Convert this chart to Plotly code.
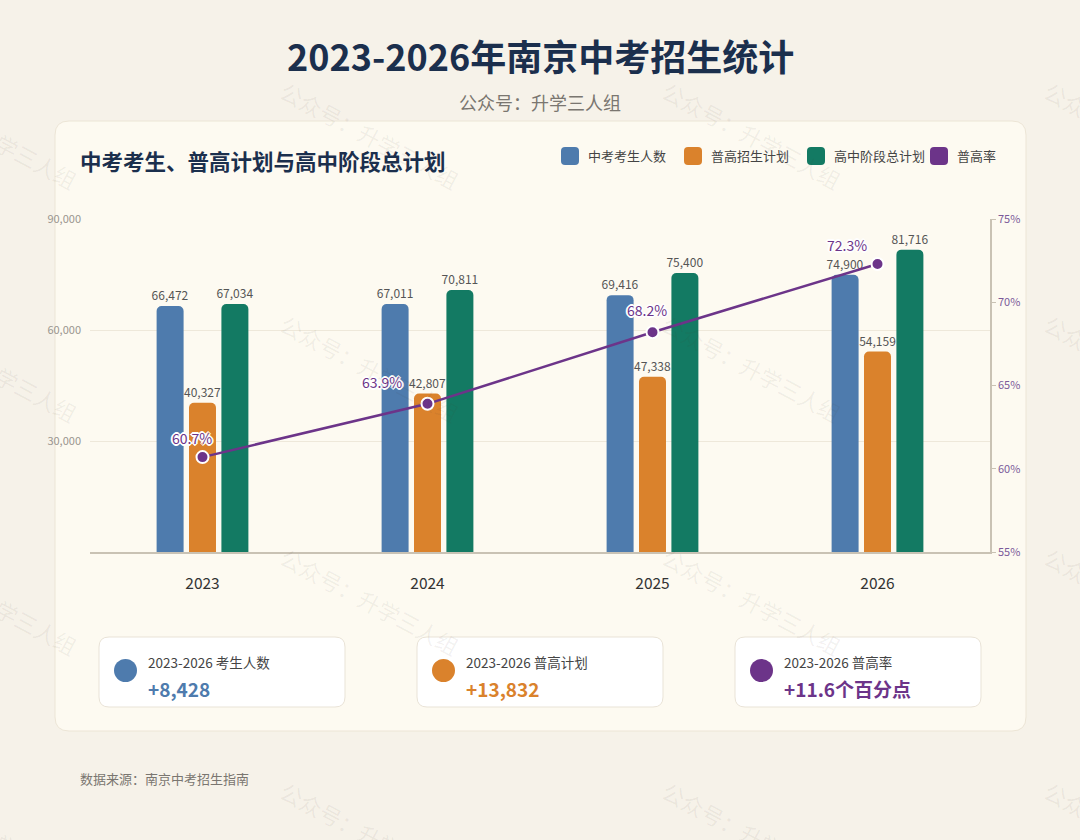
import plotly.graph_objects as go

# ---------------- data ----------------
years = ["2023", "2024", "2025", "2026"]
examinees = [66472, 67011, 69416, 74900]          # 中考考生人数
general_plan = [40327, 42807, 47338, 54159]       # 普高招生计划
total_plan = [67034, 70811, 75400, 81716]         # 高中阶段总计划
general_rate = [60.7, 63.9, 68.2, 72.3]           # 普高率 (%)
series_names = ["中考考生人数", "普高招生计划", "高中阶段总计划", "普高率"]
left_ticks = [30000, 60000, 90000]
right_ticks = [55, 60, 65, 70, 75]

title_text = "2023-2026年南京中考招生统计"
subtitle_text = "公众号：升学三人组"
card_title = "中考考生、普高计划与高中阶段总计划"
footer_text = "数据来源：南京中考招生指南"
watermark_text = "公众号：升学三人组"
summary_labels = ["2023-2026 考生人数", "2023-2026 普高计划", "2023-2026 普高率"]

# ---------------- styles ----------------
FONT = "Noto Sans CJK SC, Noto Sans, sans-serif"
C_BLUE, C_ORANGE, C_GREEN, C_PURPLE = "#4E7BAD", "#DA822C", "#137A63", "#6C3489"
C_NAVY = "#1B2F4D"
PAGE_BG, CARD_BG, CARD_BORDER = "#F6F2E9", "#FDFAF1", "#ECE5D6"
colors = [C_BLUE, C_ORANGE, C_GREEN, C_PURPLE]

W, H = 1080, 840
L, R, T, B = 90, 990, 219, 552   # plot area in pixels


def X(px):
    return (px - L) / (R - L)


def Y(py):
    return (B - py) / (B - T)


def rrect(x0, y0, x1, y1, r):
    pts = [
        f"M{X(x0 + r)},{Y(y0)}", f"L{X(x1 - r)},{Y(y0)}",
        f"Q{X(x1)},{Y(y0)} {X(x1)},{Y(y0 + r)}", f"L{X(x1)},{Y(y1 - r)}",
        f"Q{X(x1)},{Y(y1)} {X(x1 - r)},{Y(y1)}", f"L{X(x0 + r)},{Y(y1)}",
        f"Q{X(x0)},{Y(y1)} {X(x0)},{Y(y1 - r)}", f"L{X(x0)},{Y(y0 + r)}",
        f"Q{X(x0)},{Y(y0)} {X(x0 + r)},{Y(y0)}", "Z",
    ]
    return " ".join(pts)


fig = go.Figure()

bar_series = [examinees, general_plan, total_plan]
for name, vals, col in zip(series_names[:3], bar_series, colors[:3]):
    fig.add_trace(go.Bar(
        x=years, y=vals, name=name, marker=dict(color=col, line=dict(width=0)),
        texttemplate="%{y:,}", textposition="outside", constraintext="none",
        textfont=dict(size=12, color="#555555", family=FONT),
        cliponaxis=False, showlegend=False,
    ))

fig.add_trace(go.Scatter(
    x=years, y=general_rate, yaxis="y2", name=series_names[3],
    mode="lines+markers",
    line=dict(color=C_PURPLE, width=2.5),
    marker=dict(size=12, color=C_PURPLE, line=dict(color="white", width=2)),
    cliponaxis=False, showlegend=False,
))

shapes = []
annotations = []

# card background
shapes.append(dict(type="path", xref="paper", yref="paper", layer="below",
                   path=rrect(55, 121, 1026, 731, 14),
                   fillcolor=CARD_BG, line=dict(color=CARD_BORDER, width=1)))

# titles
annotations.append(dict(text=title_text, x=X(540), y=Y(55), xref="paper", yref="paper",
                        showarrow=False, xanchor="center", yanchor="middle",
                        font=dict(family=FONT, size=36, color=C_NAVY, weight=700)))
annotations.append(dict(text=subtitle_text, x=X(540), y=Y(102), xref="paper", yref="paper",
                        showarrow=False, xanchor="center", yanchor="middle",
                        font=dict(family=FONT, size=18, color="#7A7670")))
annotations.append(dict(text=card_title, x=X(78), y=Y(160), xref="paper", yref="paper",
                        showarrow=False, xanchor="left", yanchor="middle",
                        font=dict(family=FONT, size=21.5, color=C_NAVY, weight=700)))

# legend (manual)
legend_x = [561, 684, 807, 930]
for lx, name, col in zip(legend_x, series_names, colors):
    shapes.append(dict(type="path", xref="paper", yref="paper", layer="below",
                       path=rrect(lx, 147, lx + 18, 165, 4),
                       fillcolor=col, line=dict(width=0)))
    annotations.append(dict(text=name, x=X(lx + 25), y=Y(156), xref="paper", yref="paper",
                            showarrow=False, xanchor="left", yanchor="middle",
                            font=dict(family=FONT, size=13, color="#444444")))

# percent labels on the rate line (category axis -> index positions)
label_shift = [(-11, 19), (-46, 22), (-6, 22), (-31, 19)]
halo = ("1px 1px 0 #fff, -1px -1px 0 #fff, 1px -1px 0 #fff, -1px 1px 0 #fff, "
        "0 2px 0 #fff, 0 -2px 0 #fff, 2px 0 0 #fff, -2px 0 0 #fff")
for i, (v, (dx, dy)) in enumerate(zip(general_rate, label_shift)):
    annotations.append(dict(text=f"{v:.1f}%", x=i, y=v, xref="x", yref="y2",
                            showarrow=False, xshift=dx, yshift=dy,
                            font=dict(family=FONT, size=14, color=C_PURPLE, shadow=halo)))

# summary cards
delta_exam = examinees[-1] - examinees[0]
delta_plan = general_plan[-1] - general_plan[0]
delta_rate = general_rate[-1] - general_rate[0]
summary_values = [f"+{delta_exam:,}", f"+{delta_plan:,}", f"+{delta_rate:.1f}个百分点"]
summary_colors = [C_BLUE, C_ORANGE, C_PURPLE]
box_x = [99, 417, 735]
for bx, lab, val, col in zip(box_x, summary_labels, summary_values, summary_colors):
    shapes.append(dict(type="path", xref="paper", yref="paper", layer="below",
                       path=rrect(bx, 637, bx + 246, 707, 10),
                       fillcolor="#FFFFFF", line=dict(color="#E9E3D7", width=1)))
    shapes.append(dict(type="circle", xref="paper", yref="paper", layer="below",
                       x0=X(bx + 15), x1=X(bx + 38), y0=Y(682), y1=Y(659),
                       fillcolor=col, line=dict(width=0)))
    annotations.append(dict(text=lab, x=X(bx + 47), y=Y(662), xref="paper", yref="paper",
                            showarrow=False, xanchor="left", yanchor="middle",
                            font=dict(family=FONT, size=13.5, color="#444444")))
    annotations.append(dict(text=val, x=X(bx + 47), y=Y(688), xref="paper", yref="paper",
                            showarrow=False, xanchor="left", yanchor="middle",
                            font=dict(family=FONT, size=19, color=col, weight=700)))

# footer
annotations.append(dict(text=footer_text, x=X(78), y=Y(778), xref="paper", yref="paper",
                        showarrow=False, xanchor="left", yanchor="middle",
                        font=dict(family=FONT, size=13, color="#7A7670")))

# watermarks
for sx in [-110, 272, 654, 1036]:
    for sy in [77, 310, 543, 777]:
        annotations.append(dict(text=watermark_text, x=X(sx + 98), y=Y(sy + 58),
                                xref="paper", yref="paper", showarrow=False,
                                xanchor="center", yanchor="middle", textangle=28,
                                font=dict(family=FONT, size=22, color="rgba(70,60,50,0.07)")))

fig.update_layout(
    width=W, height=H,
    margin=dict(l=L, r=W - R, t=T, b=H - B, pad=0),
    paper_bgcolor=PAGE_BG, plot_bgcolor="rgba(0,0,0,0)",
    barmode="group", bargap=0.568, bargroupgap=0.167, barcornerradius=5,
    font=dict(family=FONT),
    shapes=shapes, annotations=annotations,
    showlegend=False,
    xaxis=dict(type="category", range=[-0.5, len(years) - 0.5],
               showgrid=False, zeroline=False,
               showline=True, linecolor="#C9C2B4", linewidth=2,
               ticks="", ticklabelstandoff=16,
               tickfont=dict(family=FONT, size=15.5, color="#333333")),
    yaxis=dict(range=[0, 90000], tickvals=left_ticks, tickformat=",d",
               showgrid=True, gridcolor="#EEE8DA", gridwidth=1,
               zeroline=False, showline=False, ticks="", ticklabelstandoff=8,
               tickfont=dict(family=FONT, size=11, color="#9A968F")),
    yaxis2=dict(range=[55, 75], tickvals=right_ticks,
                ticktext=[f"{v}%" for v in right_ticks],
                overlaying="y", side="right", showgrid=False, zeroline=False,
                showline=True, linecolor="#C9C2B4", linewidth=1.5,
                ticks="outside", ticklen=4, tickcolor="#C9C2B4",
                tickfont=dict(family=FONT, size=11, color="#7B5A9A")),
)

fig.write_html("out.html")
